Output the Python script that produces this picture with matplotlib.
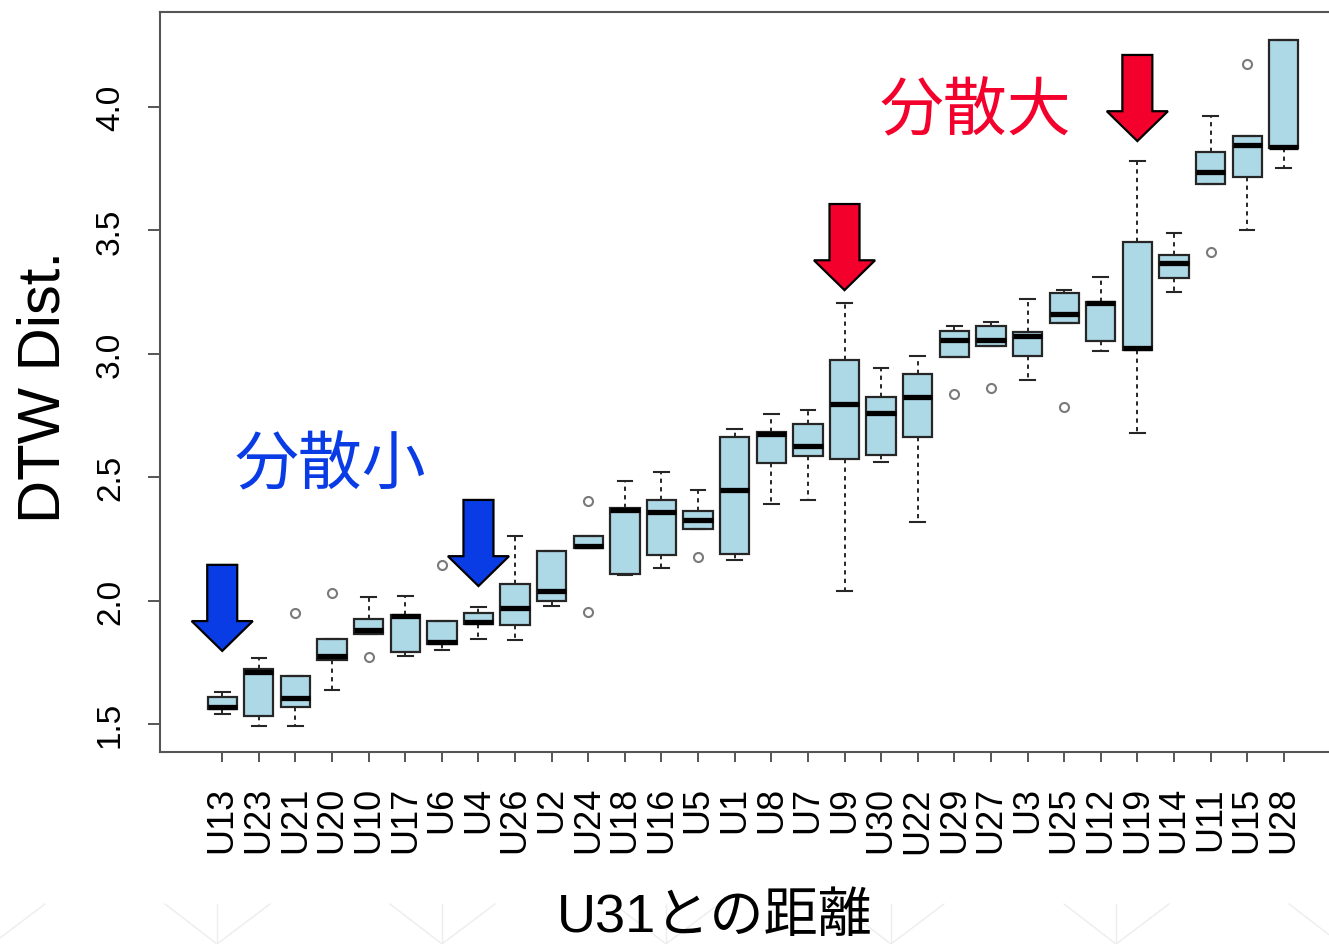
import matplotlib
matplotlib.use("Agg")
import matplotlib.pyplot as plt
from matplotlib.patches import Polygon
from matplotlib.lines import Line2D
from matplotlib import transforms

plt.rcParams['font.family'] = ['Liberation Sans', 'Noto Sans CJK JP', 'DejaVu Sans']

# Users, ordered by median DTW distance to U31
users = ['U13', 'U23', 'U21', 'U20', 'U10', 'U17', 'U6', 'U4', 'U26', 'U2',
         'U24', 'U18', 'U16', 'U5', 'U1', 'U8', 'U7', 'U9', 'U30', 'U22',
         'U29', 'U27', 'U3', 'U25', 'U12', 'U19', 'U14', 'U11', 'U15', 'U28']

whisker_low = [1.542, 1.493, 1.493, 1.639, 1.863, 1.777, 1.801, 1.843, 1.839, 1.977,
               2.214, 2.105, 2.132, 2.289, 2.163, 2.391, 2.408, 2.039, 2.560, 2.318,
               2.986, 3.033, 2.894, 3.124, 3.013, 2.679, 3.252, 3.687, 3.503, 3.754]
quartile1 = [1.561, 1.531, 1.568, 1.761, 1.863, 1.790, 1.823, 1.906, 1.901, 2.000,
             2.214, 2.109, 2.184, 2.289, 2.189, 2.559, 2.585, 2.574, 2.590, 2.663,
             2.986, 3.033, 2.991, 3.124, 3.053, 3.017, 3.306, 3.687, 3.718, 3.834]
median = [1.569, 1.709, 1.604, 1.777, 1.881, 1.936, 1.831, 1.912, 1.969, 2.037,
          2.220, 2.368, 2.358, 2.325, 2.449, 2.675, 2.626, 2.797, 2.761, 2.825,
          3.056, 3.057, 3.071, 3.160, 3.205, 3.022, 3.368, 3.738, 3.846, 3.839]
quartile3 = [1.609, 1.724, 1.693, 1.844, 1.927, 1.942, 1.917, 1.950, 2.068, 2.200,
             2.260, 2.374, 2.408, 2.362, 2.663, 2.683, 2.716, 2.976, 2.823, 2.918,
             3.091, 3.111, 3.087, 3.246, 3.211, 3.452, 3.399, 3.816, 3.884, 4.270]
whisker_high = [1.628, 1.766, 1.693, 1.844, 2.016, 2.020, 1.917, 1.975, 2.262, 2.200,
                2.260, 2.486, 2.522, 2.449, 2.694, 2.756, 2.772, 3.206, 2.944, 2.991,
                3.111, 3.127, 3.222, 3.258, 3.310, 3.780, 3.488, 3.962, 3.884, 4.273]
outliers = [[], [], [1.950], [2.030], [1.771], [], [2.143], [], [], [],
            [2.405, 1.955], [], [], [2.175], [], [], [], [], [], [],
            [2.837], [2.862], [], [2.784], [], [], [], [3.411], [4.174], []]

y_ticks = [1.5, 2.0, 2.5, 3.0, 3.5, 4.0]
y_tick_labels = ['1.5', '2.0', '2.5', '3.0', '3.5', '4.0']

# Highlighted users and where their arrow tips sit
low_spread = [('U13', 1.796), ('U4', 2.059)]
high_spread = [('U9', 3.258), ('U19', 3.862)]

BLUE = '#0a3ce6'
RED = '#f4002c'

fig = plt.figure(figsize=(13.29, 9.45), dpi=100)
ax = fig.add_axes([160 / 1329, 1 - 753 / 945, (1346 - 160) / 1329, (753 - 13) / 945])

positions = list(range(1, len(users) + 1))
stats = []
for i, name in enumerate(users):
    stats.append(dict(label=name, whislo=whisker_low[i], q1=quartile1[i], med=median[i],
                      q3=quartile3[i], whishi=whisker_high[i], fliers=outliers[i]))

ax.bxp(stats, positions=positions, widths=0.8, patch_artist=True,
       boxprops=dict(facecolor='#add8e6', edgecolor='#262626', linewidth=1.6),
       medianprops=dict(color='black', linewidth=3.8, solid_capstyle='butt'),
       whiskerprops=dict(color='#262626', linewidth=1.4, linestyle=(0, (2.2, 2.2))),
       capprops=dict(color='#262626', linewidth=1.5),
       capwidths=0.4,
       flierprops=dict(marker='o', markerfacecolor='none', markeredgecolor='#7a7a7a',
                       markersize=6.5, markeredgewidth=1.5))

ax.set_xlim(-0.7, 31.7)
ax.set_ylim(1.3865, 4.385)

ax.set_xticks(positions)
ax.set_xticklabels(users, rotation=90, fontsize=26)
ax.set_yticks(y_ticks)
ax.set_yticklabels(y_tick_labels, fontsize=24, rotation=90, va='center')
ax.tick_params(axis='x', length=7.5, width=1.4, color='#555555', pad=17)
ax.tick_params(axis='y', length=8.5, width=1.4, color='#555555', pad=16)
for sp in ax.spines.values():
    sp.set_color('#555555')
    sp.set_linewidth(1.5)

fig.text(44 / 1329, 1 - 387 / 945, 'DTW Dist.', rotation=90, ha='center', va='center',
         fontsize=43)
fig.text(715 / 1329, 1 - 918 / 945, 'U31との距離', ha='center', va='center', fontsize=39)

fig.text(330 / 1329, 1 - 466 / 945, '分散小', ha='center', va='center', fontsize=46,
         color=BLUE, family=['Noto Sans CJK JP'])
fig.text(975 / 1329, 1 - 112 / 945, '分散大', ha='center', va='center', fontsize=46,
         color=RED, family=['Noto Sans CJK JP'])

# Block arrows pointing down at selected users (shape in points, tip at origin)
L, HL, HW, SW = 62.0, 21.5, 22.0, 10.8
arrow_shape = [(0, 0), (-HW, HL), (-SW, HL), (-SW, L), (SW, L), (SW, HL), (HW, HL)]
pt_to_disp = transforms.Affine2D().scale(1 / 72) + fig.dpi_scale_trans


def block_arrow(user, tip, color):
    x = users.index(user) + 1
    tr = pt_to_disp + transforms.ScaledTranslation(x, tip, ax.transData)
    ax.add_patch(Polygon(arrow_shape, closed=True, transform=tr, facecolor=color,
                         edgecolor='black', linewidth=1.6, zorder=5, clip_on=False))


for user, tip in low_spread:
    block_arrow(user, tip, BLUE)
for user, tip in high_spread:
    block_arrow(user, tip, RED)

# Faint background decoration along the bottom edge
for c in [-8, 217, 442, 666, 891, 1116, 1341]:
    for xs, ys in [((c - 52, c), (905, 945)), ((c, c + 53), (945, 905)), ((c, c), (905, 945))]:
        fig.add_artist(Line2D([v / 1329 for v in xs], [1 - v / 945 for v in ys],
                              transform=fig.transFigure, color='#ededed', linewidth=1.0,
                              zorder=0))

fig.savefig('out.png', dpi=100)
